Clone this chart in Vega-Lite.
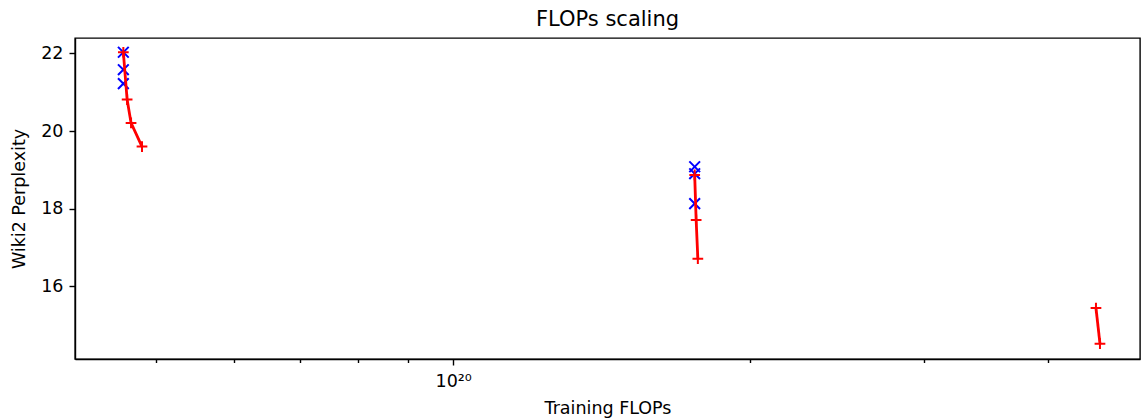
{
  "$schema": "https://vega.github.io/schema/vega-lite/v6.json",
  "autosize": "none",
  "padding": {"left": 75, "top": 38, "right": 2, "bottom": 60},
  "width": 1065,
  "height": 321,
  "background": "white",
  "config": {
    "font": "DejaVu Sans",
    "view": {"stroke": "black", "strokeWidth": 1.4},
    "axis": {
      "labelFont": "DejaVu Sans", "labelFontSize": 17.5, "labelColor": "black",
      "titleFont": "DejaVu Sans", "titleFontSize": 17.5, "titleFontWeight": "normal", "titleColor": "black",
      "domainColor": "black", "domainWidth": 1.4, "tickColor": "black", "tickWidth": 1.4, "grid": false
    },
    "title": {"font": "DejaVu Sans", "fontSize": 21, "fontWeight": "normal", "color": "black"}
  },
  "title": {"text": "FLOPs scaling", "anchor": "middle", "offset": 8},
  "datasets": {
    "blue": [
      {"flops": 4.634e19, "ppl": 22.03, "group": "a"},
      {"flops": 4.634e19, "ppl": 21.58, "group": "a"},
      {"flops": 4.634e19, "ppl": 21.22, "group": "a"},
      {"flops": 1.756e20, "ppl": 19.08, "group": "b"},
      {"flops": 1.756e20, "ppl": 18.90, "group": "b"},
      {"flops": 1.756e20, "ppl": 18.13, "group": "b"}
    ],
    "red": [
      {"flops": 4.634e19, "ppl": 22.03, "group": "a"},
      {"flops": 4.675e19, "ppl": 20.81, "group": "a"},
      {"flops": 4.718e19, "ppl": 20.21, "group": "a"},
      {"flops": 4.84e19, "ppl": 19.60, "group": "a"},
      {"flops": 1.756e20, "ppl": 18.87, "group": "b"},
      {"flops": 1.762e20, "ppl": 17.71, "group": "b"},
      {"flops": 1.769e20, "ppl": 16.71, "group": "b"},
      {"flops": 4.476e20, "ppl": 15.44, "group": "c"},
      {"flops": 4.518e20, "ppl": 14.52, "group": "c"}
    ]
  },
  "layer": [
    {
      "data": {"name": "blue"},
      "mark": {"type": "point", "shape": "M-1,-1L1,1M1,-1L-1,1", "filled": false, "stroke": "#0000ff", "strokeWidth": 2, "size": 115, "opacity": 1},
      "encoding": {
        "x": {
          "field": "flops", "type": "quantitative",
          "scale": {"type": "log", "domain": [4.14e19, 4.96e20], "nice": false},
          "axis": {
            "title": "Training FLOPs",
            "values": [5e19, 6e19, 7e19, 8e19, 9e19, 1e20, 2e20, 3e20, 4e20],
            "labelExpr": "datum.value == 1e20 ? '10²⁰' : ''",
            "tickSize": {"condition": {"test": "datum.value == 1e20", "value": 6}, "value": 3.5},
            "labelPadding": 7,
            "labelFlush": false,
            "labelOverlap": false,
            "titlePadding": 10
          }
        },
        "y": {
          "field": "ppl", "type": "quantitative",
          "scale": {"domain": [14.126, 22.397], "nice": false, "zero": false},
          "axis": {
            "title": "Wiki2 Perplexity",
            "values": [16, 18, 20, 22],
            "tickSize": 6,
            "labelPadding": 6,
            "titlePadding": 12
          }
        }
      }
    },
    {
      "data": {"name": "red"},
      "mark": {"type": "line", "color": "#ff0000", "strokeWidth": 2.8},
      "encoding": {
        "x": {"field": "flops", "type": "quantitative"},
        "y": {"field": "ppl", "type": "quantitative"},
        "detail": {"field": "group"}
      }
    },
    {
      "data": {"name": "red"},
      "mark": {"type": "point", "shape": "M-1,0L1,0M0,-1L0,1", "filled": false, "stroke": "#ff0000", "strokeWidth": 2, "size": 115, "opacity": 1},
      "encoding": {
        "x": {"field": "flops", "type": "quantitative"},
        "y": {"field": "ppl", "type": "quantitative"}
      }
    }
  ]
}
